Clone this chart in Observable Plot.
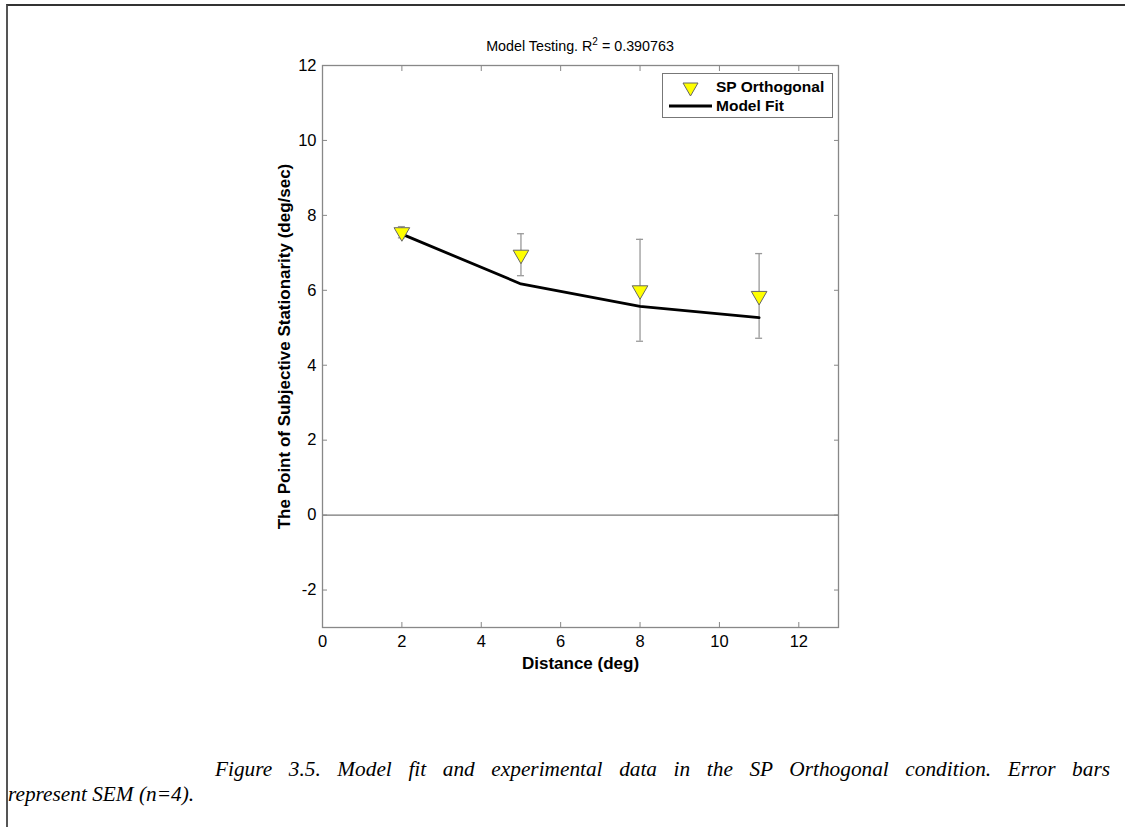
<!DOCTYPE html>
<html>
<head>
<meta charset="utf-8">
<script src="https://cdn.jsdelivr.net/npm/d3@7"></script>
<script src="https://cdn.jsdelivr.net/npm/@observablehq/plot@0.6"></script>
<style>
  html, body { margin: 0; padding: 0; background: #fff; }
  #page { position: relative; width: 1125px; height: 827px; overflow: hidden; font-family: "Liberation Sans", Arial, sans-serif; }
  #border { position: absolute; left: 6px; top: 4px; width: 1130px; height: 900px; border-left: 2px solid #555; border-top: 2px solid #333; }
  #chart { position: absolute; left: 0; top: 0; }
  #title { position: absolute; left: 322px; width: 516px; top: 36px; text-align: center; font-size: 14.3px; color: #000; }
  #legend { position: absolute; left: 662px; top: 73px; width: 171px; height: 45px; border: 1px solid #777; background: #fff; box-sizing: border-box; }
  .lg-row { position: absolute; left: 0; font-weight: bold; font-size: 15.5px; }
  .cap { position: absolute; font-family: "Liberation Serif", "Times New Roman", serif; font-style: italic; font-size: 21.3px; color: #000; white-space: nowrap; }
</style>
</head>
<body>
<div id="page">
  <div id="border"></div>
  <div id="chart"></div>
  <div id="title">Model Testing. R<sup style="font-size:10px">2</sup> = 0.390763</div>
  <div id="legend"></div>
  <div class="cap" id="cap1" style="left:215px; top:757px; width:895px; text-align:justify; text-align-last:justify; white-space:normal;">Figure 3.5. Model fit and experimental data in the SP Orthogonal condition. Error bars</div>
  <div class="cap" style="left:8px; top:782px;">represent SEM (n=4).</div>
</div>
<script>
// ---- data ----
const distances = [2, 5, 8, 11];
const meanPSS   = [7.55, 6.95, 6.00, 5.85];
const semPSS    = [0.15, 0.56, 1.36, 1.13];
const modelFit  = [7.50, 6.17, 5.57, 5.27];
const xTicks = [0, 2, 4, 6, 8, 10, 12];
const yTicks = [-2, 0, 2, 4, 6, 8, 10, 12];
const seriesNames = ["SP Orthogonal", "Model Fit"];
const xLabel = "Distance (deg)";
const yLabel = "The Point of Subjective Stationarity (deg/sec)";

const obs = distances.map((d, i) => ({x: d, y: meanPSS[i], lo: meanPSS[i] - semPSS[i], hi: meanPSS[i] + semPSS[i]}));
const fit = distances.map((d, i) => ({x: d, y: modelFit[i]}));

const W = 1125, H = 680;
const fmt = d => String(d);
const chart = Plot.plot({
  width: W,
  height: H,
  marginLeft: 322,
  marginRight: W - 838,
  marginTop: 65,
  marginBottom: H - 627,
  style: {fontFamily: "Liberation Sans, Arial, sans-serif", color: "#000", background: "transparent"},
  x: {domain: [0, 13], ticks: xTicks},
  y: {domain: [-3, 12], ticks: yTicks},
  marks: [
    Plot.ruleY([0], {stroke: "#777", strokeWidth: 1.3}),
    Plot.frame({stroke: "#888", strokeWidth: 1.3}),
    Plot.axisX({anchor: "bottom", ticks: xTicks, tickFormat: fmt, tickSize: -5, tickPadding: 13, stroke: "#888", label: xLabel, labelAnchor: "center", labelOffset: 41, labelArrow: false}),
    Plot.axisX({anchor: "top", ticks: xTicks, tickSize: -5, text: null, stroke: "#888", label: null}),
    Plot.axisY({anchor: "left", ticks: yTicks, tickFormat: fmt, tickSize: -5, tickPadding: 11, stroke: "#888", label: yLabel, labelAnchor: "center", labelOffset: 45, labelArrow: false}),
    Plot.axisY({anchor: "right", ticks: yTicks, tickSize: -5, text: null, stroke: "#888", label: null}),
    Plot.ruleX(obs, {x: "x", y1: "lo", y2: "hi", stroke: "#999", strokeWidth: 1.3}),
    Plot.ruleY(obs, {y: "lo", x1: "x", x2: "x", insetLeft: -3.5, insetRight: -3.5, stroke: "#999", strokeWidth: 1.3}),
    Plot.ruleY(obs, {y: "hi", x1: "x", x2: "x", insetLeft: -3.5, insetRight: -3.5, stroke: "#999", strokeWidth: 1.3}),
    Plot.line(fit, {x: "x", y: "y", stroke: "#000", strokeWidth: 2.8}),
    Plot.dot(obs, {x: "x", y: "y", symbol: "triangle", rotate: 180, r: 5.8, fill: "#ffff00", stroke: "#666", strokeWidth: 1})
  ]
});
// enlarge axis text; bold axis titles
chart.querySelectorAll("text").forEach(t => {
  t.style.fill = "#000";
  const s = t.textContent;
  if (s === xLabel || s === yLabel) { t.style.fontWeight = "bold"; t.style.fontSize = "17px"; }
  else t.style.fontSize = "16.5px";
});
document.getElementById("chart").appendChild(chart);

// legend
const lg = document.getElementById("legend");
const r1 = document.createElement("div");
r1.className = "lg-row"; r1.style.top = "3px";
r1.innerHTML = `<svg width="170" height="20" style="position:absolute;left:0;top:0"><path d="M20,6 L35,6 L27.5,19 Z" fill="#ffff00" stroke="#666" stroke-width="1"/></svg><span style="position:absolute;left:53px;top:1px;white-space:nowrap">${seriesNames[0]}</span>`;
const r2 = document.createElement("div");
r2.className = "lg-row"; r2.style.top = "22px";
r2.innerHTML = `<svg width="170" height="20" style="position:absolute;left:0;top:0"><line x1="6" x2="49" y1="10" y2="10" stroke="#000" stroke-width="2.8"/></svg><span style="position:absolute;left:53px;top:1px;white-space:nowrap">${seriesNames[1]}</span>`;
lg.appendChild(r1); lg.appendChild(r2);
</script>
</body>
</html>
